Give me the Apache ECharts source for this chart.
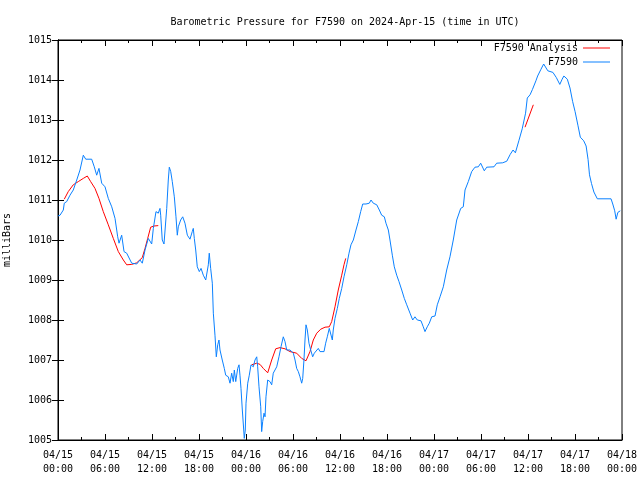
<!DOCTYPE html>
<html>
<head>
<meta charset="utf-8">
<script src="https://cdn.jsdelivr.net/npm/echarts@6/dist/echarts.min.js"></script>
<style>html,body{margin:0;padding:0;background:#fff}#chart{width:640px;height:480px}</style>
</head>
<body>
<div id="chart"></div>
<script>
// hours since 2024-04-15 00:00 UTC
const stationHours = [0.00,0.26,0.68,0.80,1.11,1.53,1.95,2.39,2.81,3.23,3.54,4.30,4.63,4.94,5.23,5.58,6.00,6.42,6.86,7.28,7.62,7.79,8.13,8.43,8.77,9.41,10.05,10.47,10.76,11.11,11.53,11.96,12.17,12.51,12.80,13.02,13.11,13.31,13.53,13.88,14.08,14.21,14.39,14.59,14.85,15.06,15.23,15.36,15.66,15.92,16.21,16.51,16.85,17.14,17.27,17.40,17.58,17.78,18.04,18.26,18.55,18.86,19.11,19.19,19.31,19.49,19.70,19.83,20.04,20.21,20.39,20.55,20.68,20.97,21.23,21.41,21.74,21.96,22.17,22.38,22.51,22.69,22.94,23.11,23.23,23.36,23.53,23.71,23.78,23.91,24.00,24.22,24.42,24.64,24.80,24.93,25.15,25.37,25.49,25.66,25.88,26.00,26.13,26.30,26.43,26.55,26.77,27.06,27.28,27.48,27.70,27.92,28.21,28.47,28.76,28.98,29.20,29.62,29.83,30.04,30.26,30.47,30.68,30.89,31.11,31.24,31.40,31.53,31.66,31.83,32.04,32.26,32.51,32.72,32.94,33.23,33.45,33.96,34.17,34.38,34.63,34.81,35.02,35.14,35.36,35.66,35.91,36.22,36.51,36.86,37.15,37.40,37.70,38.04,38.34,38.64,38.90,39.32,39.74,39.96,40.25,40.69,41.02,41.32,41.66,41.87,42.17,42.38,42.68,42.93,43.24,43.53,43.88,44.21,44.52,44.94,45.28,45.57,45.87,46.34,46.63,46.85,47.14,47.40,47.71,48.13,48.42,48.77,49.19,49.62,50.04,50.46,50.90,51.41,51.74,51.96,52.38,52.81,53.23,53.66,53.96,54.42,54.73,55.66,56.00,56.77,57.29,57.73,58.09,58.39,58.83,59.26,59.69,59.91,60.26,60.56,61.01,61.23,61.66,62.00,62.22,62.53,63.18,63.62,64.06,64.36,64.58,65.02,65.36,65.70,66.01,66.37,66.68,67.11,67.42,67.67,67.85,68.11,68.41,68.85,70.60,70.82,71.07,71.25,71.47,71.78];
const stationPressure = [1010.60,1010.62,1010.75,1010.92,1010.96,1011.12,1011.25,1011.50,1011.75,1012.12,1012.02,1012.02,1011.83,1011.62,1011.79,1011.42,1011.33,1011.04,1010.83,1010.54,1010.08,1009.92,1010.12,1009.71,1009.67,1009.42,1009.40,1009.50,1009.42,1009.75,1010.04,1009.90,1010.29,1010.71,1010.67,1010.79,1010.62,1010.00,1009.90,1010.79,1011.50,1011.82,1011.71,1011.46,1011.08,1010.58,1010.12,1010.33,1010.50,1010.58,1010.42,1010.12,1010.02,1010.21,1010.29,1010.04,1009.75,1009.33,1009.21,1009.29,1009.12,1009.00,1009.00,1009.38,1009.67,1009.29,1008.92,1008.17,1007.62,1007.08,1007.38,1007.50,1007.25,1007.00,1006.79,1006.62,1006.58,1006.42,1006.67,1006.46,1006.75,1006.46,1006.79,1006.88,1006.62,1006.29,1005.75,1005.25,1005.04,1005.25,1005.92,1006.42,1006.62,1006.88,1006.92,1006.83,1007.00,1007.08,1006.83,1006.33,1005.83,1005.21,1005.46,1005.67,1005.58,1006.08,1006.50,1006.46,1006.38,1006.67,1006.62,1006.83,1007.08,1007.33,1007.58,1007.46,1007.25,1007.25,1007.29,1007.17,1007.00,1006.79,1006.71,1006.58,1006.42,1006.54,1007.00,1007.50,1007.88,1007.75,1007.42,1007.25,1007.08,1007.17,1007.12,1007.29,1007.21,1007.21,1007.42,1007.58,1007.79,1007.79,1007.50,1007.75,1008.04,1008.29,1008.54,1008.79,1009.08,1009.38,1009.67,1009.88,1010.00,1010.25,1010.46,1010.71,1010.90,1010.90,1010.92,1011.00,1010.92,1010.88,1010.75,1010.62,1010.58,1010.42,1010.25,1010.00,1009.62,1009.33,1009.12,1008.96,1008.75,1008.54,1008.38,1008.17,1008.00,1008.08,1008.00,1007.98,1007.83,1007.71,1007.83,1007.92,1008.08,1008.10,1008.38,1008.58,1008.83,1009.25,1009.58,1010.00,1010.50,1010.79,1010.83,1011.25,1011.46,1011.71,1011.82,1011.83,1011.92,1011.73,1011.82,1011.83,1011.92,1011.93,1011.97,1012.14,1012.25,1012.18,1012.48,1012.78,1013.17,1013.55,1013.63,1013.76,1013.98,1014.10,1014.27,1014.40,1014.45,1014.23,1014.19,1014.06,1013.89,1014.02,1014.10,1014.02,1013.80,1013.46,1013.21,1012.87,1012.57,1012.48,1012.35,1012.01,1011.63,1011.41,1011.20,1011.03,1011.03,1010.90,1010.73,1010.52,1010.69,1010.73];
// analysis; null marks a gap in the analysis record
const analysisHours = [0.80,1.31,1.95,2.59,3.23,3.74,4.17,4.72,5.23,5.78,6.42,7.06,7.70,8.34,8.77,9.41,10.05,10.76,11.11,11.45,11.83,12.26,12.80,18.00,24.72,25.37,25.79,26.21,26.77,27.28,27.79,28.34,28.98,29.62,30.47,31.11,31.66,32.17,32.59,33.03,33.54,34.09,34.63,34.94,35.36,35.78,36.22,36.51,36.73,48.00,59.62,60.68];
const analysisPressure = [1011.02,1011.21,1011.38,1011.46,1011.54,1011.60,1011.46,1011.29,1011.04,1010.71,1010.38,1010.04,1009.71,1009.50,1009.38,1009.39,1009.43,1009.56,1009.79,1010.04,1010.32,1010.35,1010.36,null,1006.88,1006.92,1006.89,1006.79,1006.68,1007.00,1007.28,1007.31,1007.28,1007.21,1007.17,1007.04,1006.98,1007.21,1007.50,1007.67,1007.77,1007.82,1007.83,1007.96,1008.33,1008.75,1009.12,1009.38,1009.54,null,1012.82,1013.38];
const dayLabels = ['04/15','04/16','04/17','04/18'];
const seriesNames = ['F7590 Analysis','F7590'];

const FONT = 'DejaVu Sans Mono';
const chart = echarts.init(document.getElementById('chart'), null, {renderer:'canvas'});
const tickCommon = {inside:true, length:6, lineStyle:{color:'#000', width:1}};
const minorCommon = {show:true, splitNumber:2, length:3, lineStyle:{color:'#000', width:1}};
function xLabel(v){
  const d = Math.floor(v/24), h = v - d*24;
  return dayLabels[d] + '\n' + (h<10?'0':'') + h + ':00';
}
const xBase = {type:'value', min:0, max:72, interval:6, splitLine:{show:false},
  axisLine:{show:true, lineStyle:{color:'#000', width:1}}, axisTick:tickCommon, minorTick:minorCommon};
const yBase = {type:'value', min:1005, max:1015, interval:1, splitLine:{show:false},
  axisLine:{show:true, lineStyle:{color:'#000', width:1}}, axisTick:tickCommon};

chart.setOption({
  animation:false,
  backgroundColor:'#fff',
  textStyle:{fontFamily:FONT},
  title:{text:'Barometric Pressure for F7590 on 2024-Apr-15 (time in UTC)', left:340, top:12, textAlign:'center',
    textStyle:{fontFamily:FONT, fontSize:10, fontWeight:'normal', color:'#000'}},
  grid:{left:58, right:18, top:40, bottom:40, show:true, borderColor:'#000', borderWidth:1, backgroundColor:'transparent',
    containLabel:false, outerBoundsMode:'none'},
  legend:[
    {data:[seriesNames[0]], right:30, top:43, align:'right', icon:'rect', itemWidth:27, itemHeight:1, padding:0,
      textStyle:{fontFamily:FONT, fontSize:10, color:'#000'}},
    {data:[seriesNames[1]], right:30, top:57, align:'right', icon:'rect', itemWidth:27, itemHeight:1, padding:0,
      textStyle:{fontFamily:FONT, fontSize:10, color:'#000'}}
  ],
  xAxis:[
    Object.assign({}, xBase, {position:'bottom',
      axisLabel:{formatter:xLabel, fontFamily:FONT, fontSize:10, color:'#000', lineHeight:14, margin:8, showMinLabel:true, showMaxLabel:true}}),
    Object.assign({}, xBase, {position:'top', axisLabel:{show:false}})
  ],
  yAxis:[
    Object.assign({}, yBase, {position:'left', name:'milliBars', nameLocation:'middle', nameRotate:90, nameGap:46,
      nameTextStyle:{fontFamily:FONT, fontSize:10, color:'#000'},
      axisLabel:{formatter:function(v){return String(v);}, fontFamily:FONT, fontSize:10, color:'#000', margin:6}}),
    Object.assign({}, yBase, {position:'right', axisLabel:{show:false}})
  ],
  series:[
    {name:seriesNames[0], type:'line', xAxisIndex:0, yAxisIndex:0, showSymbol:false, connectNulls:false,
      lineStyle:{color:'#ff0000', width:1}, itemStyle:{color:'#ff0000'},
      data: analysisHours.map((t,i)=>[t, analysisPressure[i]===null ? '-' : analysisPressure[i]])},
    {name:seriesNames[1], type:'line', xAxisIndex:0, yAxisIndex:0, showSymbol:false,
      lineStyle:{color:'#0a80ff', width:1}, itemStyle:{color:'#0a80ff'},
      data: stationHours.map((t,i)=>[t, stationPressure[i]])}
  ]
});
</script>
</body>
</html>
